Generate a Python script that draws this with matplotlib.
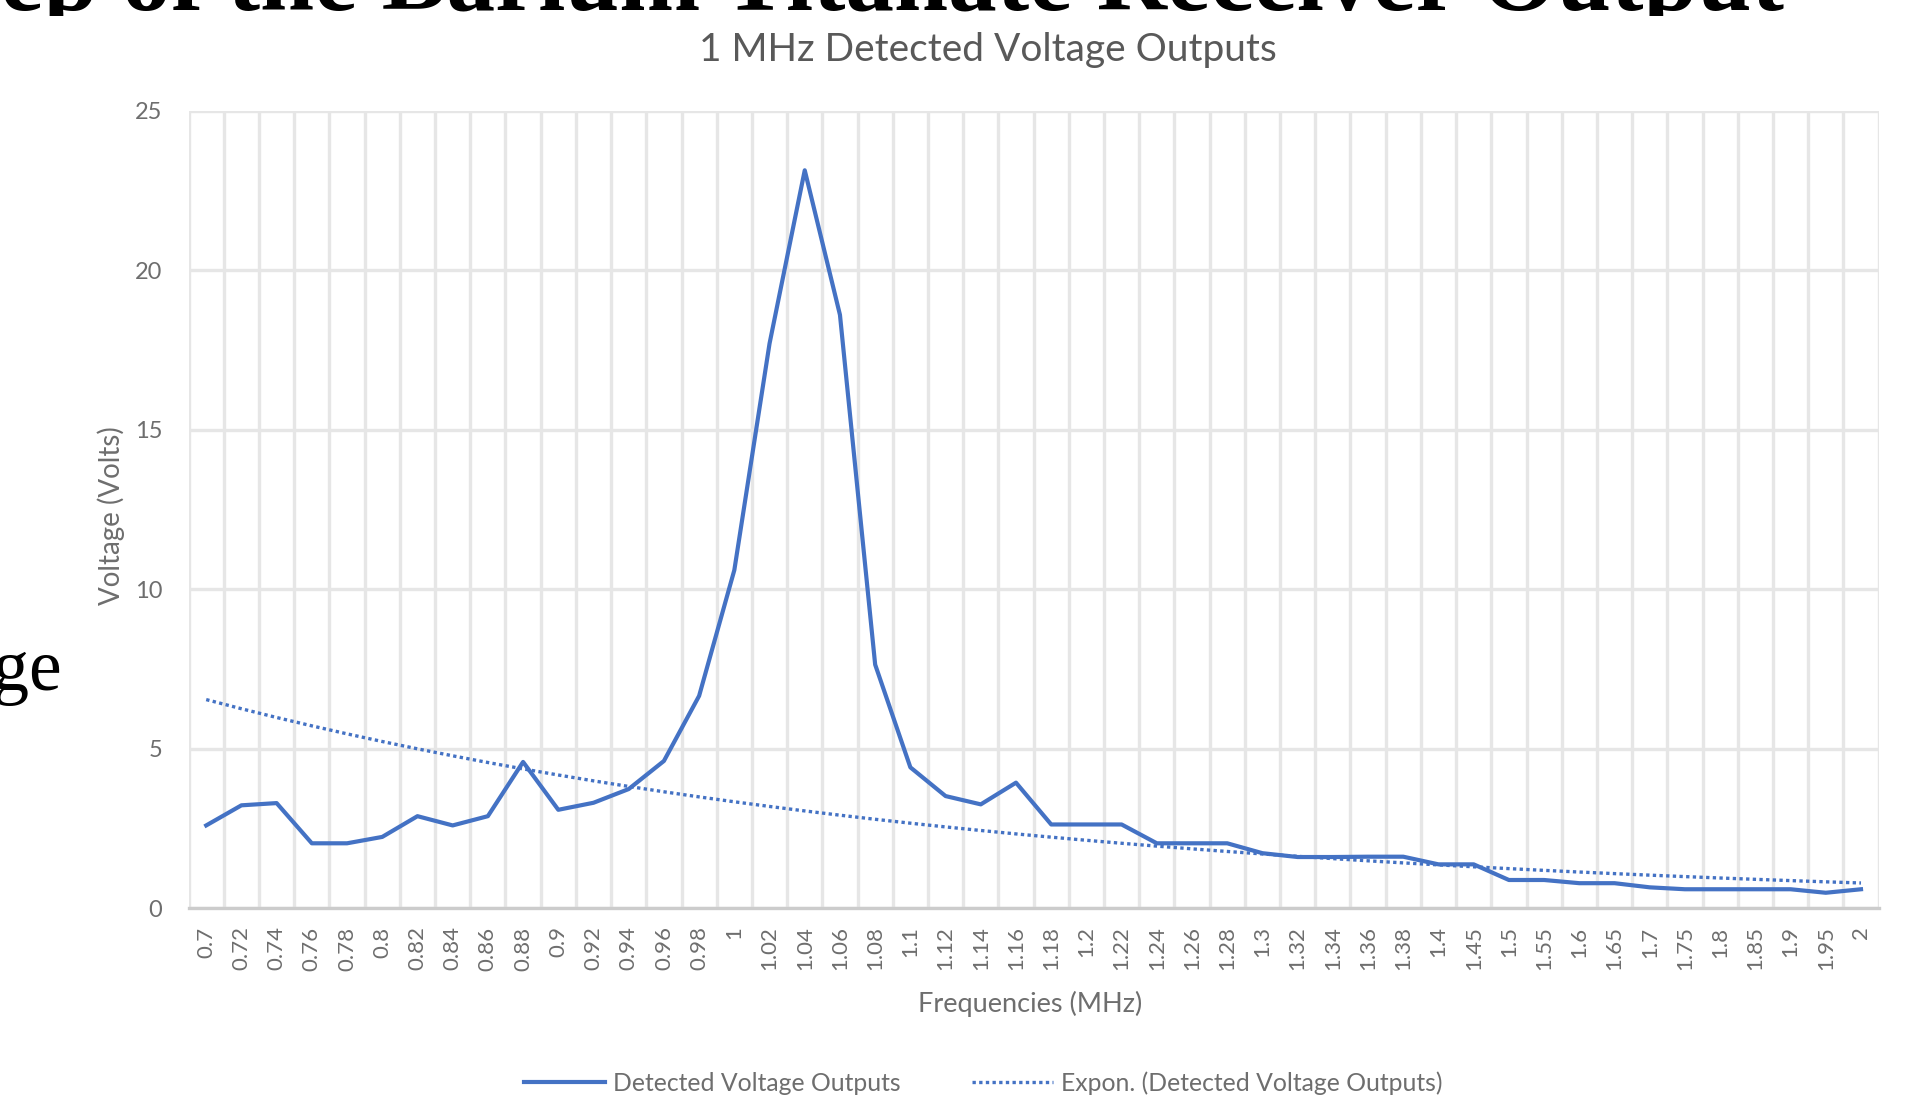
import numpy as np
import matplotlib
matplotlib.use("Agg")
import matplotlib.pyplot as plt

# frequencies (MHz) - category labels
freqs = ["0.7", "0.72", "0.74", "0.76", "0.78", "0.8", "0.82", "0.84", "0.86", "0.88",
         "0.9", "0.92", "0.94", "0.96", "0.98", "1", "1.02", "1.04", "1.06", "1.08",
         "1.1", "1.12", "1.14", "1.16", "1.18", "1.2", "1.22", "1.24", "1.26", "1.28",
         "1.3", "1.32", "1.34", "1.36", "1.38", "1.4", "1.45", "1.5", "1.55", "1.6",
         "1.65", "1.7", "1.75", "1.8", "1.85", "1.9", "1.95", "2"]

# detected voltage (V)
volts = [2.6, 3.23, 3.3, 2.04, 2.04, 2.24, 2.89, 2.6, 2.89, 4.59,
         3.09, 3.31, 3.74, 4.62, 6.66, 10.6, 17.7, 23.13, 18.6, 7.64,
         4.42, 3.52, 3.26, 3.94, 2.63, 2.63, 2.63, 2.04, 2.04, 2.04,
         1.73, 1.61, 1.61, 1.62, 1.62, 1.38, 1.38, 0.89, 0.89, 0.79,
         0.79, 0.66, 0.6, 0.6, 0.6, 0.6, 0.49, 0.6]

yticks = [0, 5, 10, 15, 20, 25]

blue = "#4472C4"
grey = "#595959"
light = "#6e6e6e"
gridc = "#e6e6e6"
font = "Lato"

x = np.arange(len(freqs))
# excel style exponential trendline: fit ln(y) against point number
b, lna = np.polyfit(x + 1, np.log(volts), 1)
trend = np.exp(lna + b * (x + 1))

W, H = 1909, 1098
fig = plt.figure(figsize=(W / 100, H / 100), dpi=100)

# slide title behind the chart, only the top strip shows
axt = fig.add_axes([0, 1 - 16 / H, 1, 16 / H])
axt.axis("off")
axt.text(1784 / W, 1 - 10 / 16, "Frequency Sweep of the Barium Titanate Receiver Output",
         transform=axt.transAxes, ha="right", va="baseline", fontsize=70,
         fontweight="bold", family="Liberation Serif", color="black", clip_on=True)
# slide body text peeking out left of the chart
fig.text(62 / W, 1 - 690 / H, "Voltage", ha="right", va="baseline", fontsize=53,
         family="Liberation Serif", color="black")

ax = fig.add_axes([188.6 / W, (H - 908.4) / H, 1690 / W, 797.8 / H])
ax.plot(x, volts, color=blue, lw=3.0, label="Detected Voltage Outputs", zorder=3)
ax.plot(x, trend, color=blue, lw=2.4, ls=(0, (1, 1)),
        label="Expon. (Detected Voltage Outputs)", zorder=3)

ax.set_xlim(-0.5, len(freqs) - 0.5)
ax.set_ylim(0, 25)
ax.set_xticks(x)
ax.set_xticklabels(freqs, rotation=90, family=font, fontsize=16, color=light)
ax.set_xticks(np.arange(len(freqs) + 1) - 0.5, minor=True)
ax.set_yticks(yticks)
ax.set_yticklabels([str(v) for v in yticks], family=font, fontsize=17, color=light)
ax.tick_params(axis="both", which="both", length=0)
ax.tick_params(axis="x", pad=13)
ax.tick_params(axis="y", pad=19)
ax.grid(True, axis="x", which="minor", color=gridc, lw=2.4)
ax.grid(True, axis="y", which="major", color=gridc, lw=2.4)
for s in ["top", "right", "left"]:
    ax.spines[s].set_visible(False)
ax.spines["bottom"].set_color("#cccccc")
ax.spines["bottom"].set_linewidth(2.4)
ax.set_axisbelow(True)

fig.text(987.5 / W, 1 - 50 / H, "1 MHz Detected Voltage Outputs", ha="center",
         va="center", family=font, fontsize=28, color=grey)
fig.text(111 / W, 1 - 516 / H, "Voltage (Volts)", rotation=90, ha="center",
         va="center", family=font, fontsize=20, color=light)
fig.text(1030 / W, 1 - 1004 / H, "Frequencies (MHz)", ha="center", va="center",
         family=font, fontsize=19.5, color=light)

leg = fig.legend(loc="center", bbox_to_anchor=(983 / W, 1 - 1083 / H), ncol=2,
                 frameon=False, prop={"family": font, "size": 17.8},
                 handlelength=3.3, handletextpad=0.3, columnspacing=2.9)
for t in leg.get_texts():
    t.set_color(light)

fig.savefig("out.png", dpi=100, facecolor="white")
